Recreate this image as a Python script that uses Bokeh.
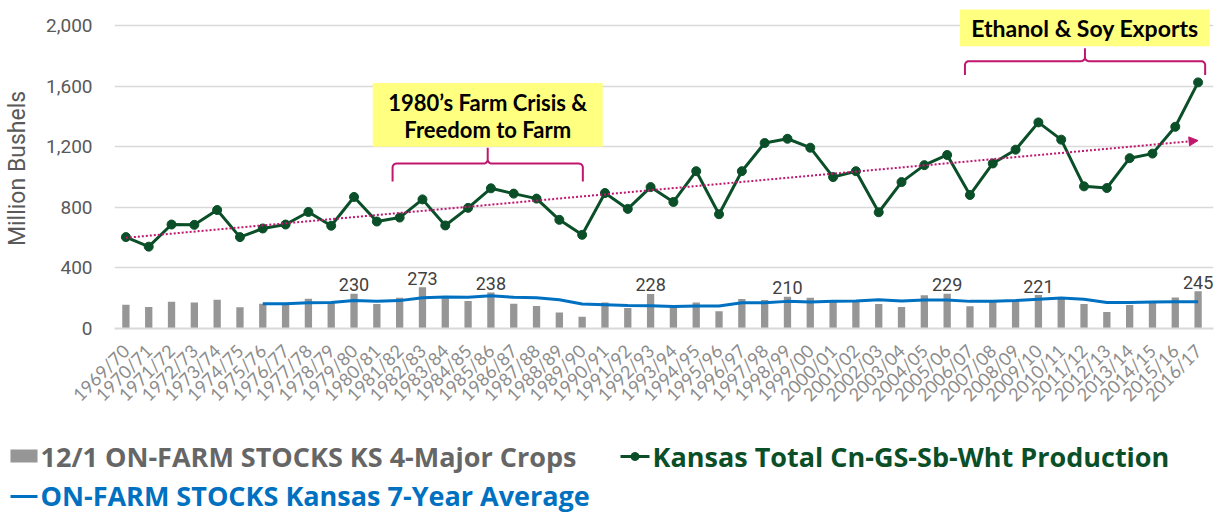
import math
import numpy as np
from bokeh.plotting import figure
from bokeh.layouts import column
from bokeh.models import (Range1d, FixedTicker, NumeralTickFormatter, ColumnDataSource,
                          BoxAnnotation, Label, Arrow, NormalHead)
from bokeh.embed import file_html
from bokeh.resources import INLINE
from bokeh.core.properties import value

# ---------------- data ----------------
years = ["1969/70", "1970/71", "1971/72", "1972/73", "1973/74", "1974/75", "1975/76", "1976/77",
         "1977/78", "1978/79", "1979/80", "1980/81", "1981/82", "1982/83", "1983/84", "1984/85",
         "1985/86", "1986/87", "1987/88", "1988/89", "1989/90", "1990/91", "1991/92", "1992/93",
         "1993/94", "1994/95", "1995/96", "1996/97", "1997/98", "1998/99", "1999/00", "2000/01",
         "2001/02", "2002/03", "2003/04", "2004/05", "2005/06", "2006/07", "2007/08", "2008/09",
         "2009/10", "2010/11", "2011/12", "2012/13", "2013/14", "2014/15", "2015/16", "2016/17"]

stocks = [157, 142, 177, 172, 190, 140, 164, 160, 197, 172, 230, 162, 203, 273, 200, 181,
          238, 164, 149, 105, 77, 172, 135, 228, 140, 172, 114, 195, 188, 210, 203, 186,
          186, 162, 142, 219, 229, 146, 186, 186, 221, 197, 162, 109, 155, 180, 205, 245]

production = [603, 540, 686, 684, 782, 603, 660, 686, 769, 678, 868, 706, 732, 852, 680, 796,
              925, 890, 857, 717, 618, 894, 789, 933, 835, 1038, 754, 1038, 1224, 1252, 1193, 999,
              1038, 767, 966, 1078, 1145, 881, 1089, 1180, 1360, 1246, 938, 927, 1124, 1154, 1331, 1624]

avg_years = years[6:]
avg7 = [164, 164, 170, 172, 184, 179, 184, 203, 208, 206, 216, 206, 203, 190, 162, 157,
        151, 150, 145, 148, 148, 170, 170, 179, 175, 179, 182, 190, 182, 188, 188, 179,
        179, 184, 193, 201, 193, 172, 172, 175, 177, 177]

labeled_years = ["1979/80", "1982/83", "1985/86", "1992/93", "1998/99", "2005/06", "2009/10", "2016/17"]

y_ticks = [0, 400, 800, 1200, 1600, 2000]

note1_lines = ["1980\u2019s Farm Crisis &", "Freedom to Farm"]
note2_text = "Ethanol & Soy Exports"

legend_labels = ["12/1 ON-FARM STOCKS KS 4-Major Crops",
                 "Kansas Total Cn-GS-Sb-Wht Production",
                 "ON-FARM STOCKS Kansas 7-Year Average"]

# ---------------- styling ----------------
GRAY_BAR = "#969696"
GREEN = "#0B4F29"
BLUE = "#0070C0"
CRIMSON = "#C0166E"
YELLOW = "#FFFF80"
AXIS_TXT = "#595959"
LEG_GRAY = "#666666"

W = 1222
H_MAIN = 416
H_LEG = 98

idx = {y: i for i, y in enumerate(years)}
x_all = [idx[y] for y in years]
x_avg = [idx[y] for y in avg_years]

YMAX = 2111.5
p = figure(width=W, height=H_MAIN, output_backend="svg", toolbar_location=None,
           x_range=Range1d(-0.5, len(years) - 0.5 + 4 / 22.8), y_range=Range1d(0, YMAX),
           min_border_left=114, min_border_right=9, min_border_top=8, min_border_bottom=86)
p.frame_align = False
p.outline_line_color = None
p.background_fill_color = "white"
p.border_fill_color = "white"

# grid
p.xgrid.grid_line_color = None
p.ygrid.grid_line_color = "#D9D9D9"
p.ygrid.grid_line_width = 1.5
p.ygrid.ticker = FixedTicker(ticks=y_ticks)

# y axis
p.yaxis.ticker = FixedTicker(ticks=y_ticks)
p.yaxis.formatter = NumeralTickFormatter(format="0,0")
p.yaxis.axis_line_color = None
p.yaxis.major_tick_line_color = None
p.yaxis.minor_tick_line_color = None
p.yaxis.major_label_standoff = 16
p.yaxis.major_label_text_font = "Roboto"
p.yaxis.major_label_text_font_size = "19px"
p.yaxis.major_label_text_color = AXIS_TXT
p.yaxis.axis_label = "Million Bushels"
p.yaxis.axis_label_text_font = "Roboto"
p.yaxis.axis_label_text_font_style = "normal"
p.yaxis.axis_label_text_font_size = "23px"
p.yaxis.axis_label_text_color = AXIS_TXT
p.yaxis.axis_label_standoff = 12

# x axis
p.xaxis.ticker = FixedTicker(ticks=x_all)
p.xaxis.major_label_overrides = {i: y for i, y in enumerate(years)}
p.xaxis.major_label_orientation = math.pi / 4
p.xaxis.axis_line_color = "#D9D9D9"
p.xaxis.axis_line_width = 2
p.xaxis.major_tick_line_color = None
p.xaxis.minor_tick_line_color = None
p.xaxis.major_label_standoff = 13
p.xaxis.major_label_text_font = "Lato"
p.xaxis.major_label_text_font_size = "18px"
p.xaxis.major_label_text_color = "#8C8C8C"

# bars
bar_src = ColumnDataSource(dict(x=x_all, top=stocks))
p.vbar(x="x", top="top", width=0.32, source=bar_src, fill_color=GRAY_BAR, line_color=None)

# 7-year average
p.line(x=x_avg, y=avg7, line_color=BLUE, line_width=3)

# bar value labels
lab_x = [idx[y] for y in labeled_years]
lab_y = [stocks[idx[y]] for y in labeled_years]
lab_t = [str(stocks[idx[y]]) for y in labeled_years]
p.text(x=lab_x, y=lab_y, text=lab_t, text_align="center", text_baseline="alphabetic",
       y_offset=-9, text_font=value("Roboto"), text_font_size="18px", text_color="#404040")

# production line
prod_src = ColumnDataSource(dict(x=x_all, y=production))
p.line(x="x", y="y", source=prod_src, line_color=GREEN, line_width=3)
p.scatter(x="x", y="y", source=prod_src, size=9, fill_color=GREEN, line_color=GREEN)

# linear trend of production
coef = np.polyfit(np.array(x_all, dtype=float), np.array(production, dtype=float), 1)
tx = np.array([x_all[0], x_all[-1] - 0.35])
p.line(x=tx, y=np.polyval(coef, tx), line_color=CRIMSON, line_width=2, line_dash="2 2")
p.add_layout(Arrow(end=NormalHead(size=9, fill_color=CRIMSON, line_color=CRIMSON),
                   x_start=x_all[-1] - 0.4, y_start=float(np.polyval(coef, x_all[-1] - 0.4)),
                   x_end=x_all[-1], y_end=float(np.polyval(coef, x_all[-1])),
                   line_color=CRIMSON, line_width=2))

# ---------------- annotations ----------------
XS = 22.8           # px per category
YS = 305.0 / 2000   # px per unit


def brace(xl, xr, xc, yb, depth_px, tip_px, r_px=4.0):
    rx, ry = r_px / XS, r_px / YS
    xs, ys = [], []

    def arc(cx, cy, a0, a1):
        for a in np.linspace(a0, a1, 8):
            xs.append(cx + rx * math.cos(a))
            ys.append(cy + ry * math.sin(a))

    xs.append(xl); ys.append(yb - depth_px / YS)
    arc(xl + rx, yb - ry, math.pi, math.pi / 2)
    arc(xc - rx, yb + ry, -math.pi / 2, 0)
    xs.append(xc); ys.append(yb + tip_px / YS)
    arc(xc + rx, yb + ry, math.pi, 3 * math.pi / 2)
    arc(xr - rx, yb - ry, math.pi / 2, 0)
    xs.append(xr); ys.append(yb - depth_px / YS)
    p.line(x=xs, y=ys, line_color=CRIMSON, line_width=2)


brace(11.69, 20.03, 15.86, 1088.5, 18, 16)
brace(36.78, 47.31, 42.04, 1764, 14, 13)

p.add_layout(BoxAnnotation(left=10.82, right=20.9, bottom=1200, top=1620,
                           fill_color=YELLOW, fill_alpha=1.0, line_color=None, level="underlay"))
p.add_layout(BoxAnnotation(left=36.56, right=47.5, bottom=1862, top=2105,
                           fill_color=YELLOW, fill_alpha=1.0, line_color=None, level="underlay"))

for txt, yv in zip(note1_lines, [1492, 1315]):
    p.add_layout(Label(x=15.86, y=yv, text=txt, text_align="center", text_baseline="middle",
                       text_font="Lato", text_font_style="bold", text_font_size="22px",
                       text_color="black"))
p.add_layout(Label(x=42.04, y=1980, text=note2_text, text_align="center", text_baseline="middle",
                   text_font="Lato", text_font_style="bold", text_font_size="23px",
                   text_color="black"))

# ---------------- legend strip (pixel space, y grows downward) ----------------
q = figure(width=W, height=H_LEG, output_backend="svg", toolbar_location=None,
           x_range=Range1d(0, W), y_range=Range1d(H_LEG, 0),
           min_border_left=0, min_border_right=0, min_border_top=0, min_border_bottom=0)
q.frame_align = False
q.axis.visible = False
q.grid.visible = False
q.outline_line_color = None
q.background_fill_color = "white"
q.border_fill_color = "white"

LEG_FONT = value("Open Sans")
LEG_SIZE = "27px"
ROW1, ROW2 = 40, 79

# item 1: bar key
q.quad(left=[10], right=[37], top=[ROW1 - 7], bottom=[ROW1 + 6], fill_color=GRAY_BAR, line_color=None)
q.text(x=[40], y=[ROW1], text=[legend_labels[0]], text_baseline="middle", text_align="left",
       text_font=LEG_FONT, text_font_style="bold", text_font_size=LEG_SIZE, text_color=LEG_GRAY)
# item 2: line+marker key
q.line(x=[620, 649], y=[ROW1, ROW1], line_color=GREEN, line_width=3)
q.scatter(x=[634.5], y=[ROW1], size=8, fill_color=GREEN, line_color=GREEN)
q.text(x=[652], y=[ROW1], text=[legend_labels[1]], text_baseline="middle", text_align="left",
       text_font=LEG_FONT, text_font_style="bold", text_font_size=LEG_SIZE, text_color=GREEN)
# item 3: line key
q.line(x=[10, 37], y=[ROW2 + 1, ROW2 + 1], line_color=BLUE, line_width=3)
q.text(x=[40], y=[ROW2], text=[legend_labels[2]], text_baseline="middle", text_align="left",
       text_font=LEG_FONT, text_font_style="bold", text_font_size=LEG_SIZE, text_color=BLUE)

layout = column(p, q, spacing=0)
open("out.html", "w").write(file_html(layout, INLINE))
